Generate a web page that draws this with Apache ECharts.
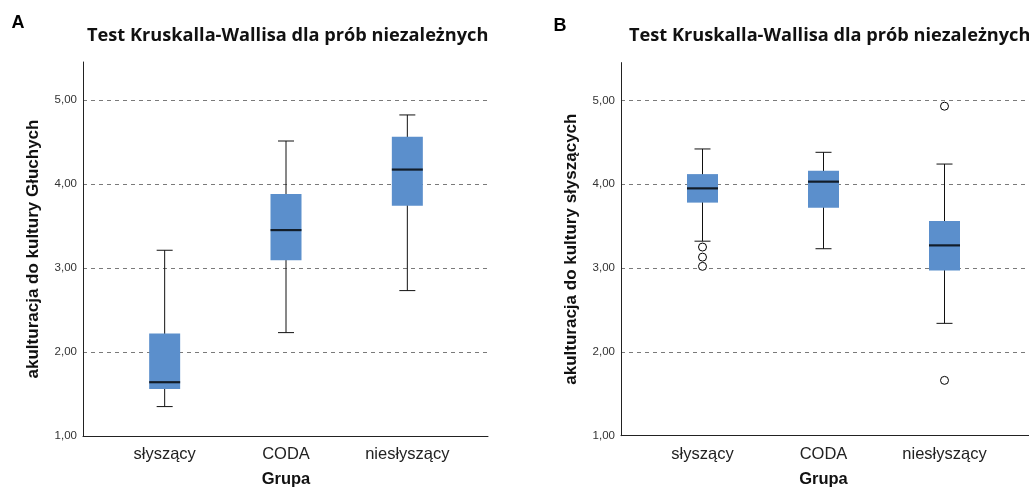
<!DOCTYPE html>
<html>
<head>
<meta charset="utf-8">
<script src="https://cdn.jsdelivr.net/npm/echarts@6/dist/echarts.min.js"></script>
<style>
html,body{margin:0;padding:0;background:#fff;}
#c{width:1029px;height:495px;}
</style>
</head>
<body>
<div id="c"></div>
<script>
// ---- data ----
const categories = ['słyszący', 'CODA', 'niesłyszący'];
const yTickLabels = { 1: '1,00', 2: '2,00', 3: '3,00', 4: '4,00', 5: '5,00' };

// Panel A: akulturacja do kultury Głuchych
const aLow  = [1.35, 2.23, 2.73];
const aQ1   = [1.56, 3.09, 3.74];
const aMed  = [1.64, 3.45, 4.17];
const aQ3   = [2.22, 3.88, 4.56];
const aHigh = [3.21, 4.51, 4.82];
const aOutliers = [];

// Panel B: akulturacja do kultury słyszących
const bLow  = [3.32, 3.23, 2.34];
const bQ1   = [3.78, 3.72, 2.97];
const bMed  = [3.95, 4.03, 3.27];
const bQ3   = [4.12, 4.16, 3.56];
const bHigh = [4.42, 4.38, 4.24];
const bOutliers = [[0, 3.25], [0, 3.13], [0, 3.02], [2, 4.93], [2, 1.66]];

const titleText = 'Test Kruskalla-Wallisa dla prób niezależnych';
const yNameA = 'akulturacja do kultury Głuchych';
const yNameB = 'akulturacja do kultury słyszących';
const xName = 'Grupa';

// ---- styles ----
const BOX = '#5b8fcc';
const AX = '#222';
const yMin = 1, yMax = 5.45;
// whisker layer: its (hidden) box outline is pulled slightly inside the blue box
const INSET = 0.04;

function panel(idx, g0, g1, yName, low, q1, med, q3, high, outliers) {
  const grids = [
    { left: g0.left, top: g0.top, width: g0.width, height: g0.height },
    { left: g1.left, top: g0.top, width: g1.width, height: g0.height }
  ];
  const base = idx * 2;
  const xAxes = [
    { gridIndex: base, type: 'value', min: 0, max: 1,
      axisLine: { show: true, lineStyle: { color: AX, width: 1 } },
      axisTick: { show: false }, axisLabel: { show: false }, splitLine: { show: false } },
    { gridIndex: base + 1, type: 'category', data: categories,
      axisLine: { show: false }, axisTick: { show: false },
      axisLabel: { margin: 10, fontFamily: 'Liberation Sans', fontSize: 16.5, color: '#222' },
      name: xName, nameLocation: 'middle', nameGap: 35,
      nameTextStyle: { fontFamily: 'Liberation Sans', fontSize: 16.5, fontWeight: 'bold', color: '#111' } }
  ];
  const yAxes = [
    { gridIndex: base, type: 'value', min: yMin, max: yMax, interval: 1,
      axisLine: { show: true, lineStyle: { color: AX, width: 1 } },
      axisTick: { show: false },
      axisLabel: { margin: 6, fontFamily: 'Liberation Sans', fontSize: 11.5, color: '#333',
        showMaxLabel: false,
        formatter: v => yTickLabels[v] || '' },
      splitLine: { show: true, showMinLine: false, showMaxLine: false,
        lineStyle: { color: '#7a7a7a', type: [4, 4], width: 1 } },
      name: yName, nameLocation: 'middle', nameGap: 41, nameRotate: 90,
      nameTextStyle: { fontFamily: 'Liberation Sans', fontSize: 17, fontWeight: 'bold', color: '#111' } },
    { gridIndex: base + 1, type: 'value', min: yMin, max: yMax, show: false,
      splitLine: { show: false } }
  ];
  const xi = base + 1, yi = base + 1;
  const series = [
    { type: 'boxplot', xAxisIndex: xi, yAxisIndex: yi, z: 2,
      boxWidth: [16, 16],
      itemStyle: { color: 'transparent', borderColor: '#111', borderWidth: 1 },
      data: categories.map((c, i) => {
        const lo = q1[i] + INSET, hi = q3[i] - INSET;
        const m = Math.min(Math.max(med[i], lo), hi);
        return [low[i], lo, m, hi, high[i]];
      }) },
    { type: 'bar', xAxisIndex: xi, yAxisIndex: yi, stack: 'box' + idx, z: 3,
      barWidth: 31, itemStyle: { color: 'transparent' }, silent: true,
      data: q1 },
    { type: 'bar', xAxisIndex: xi, yAxisIndex: yi, stack: 'box' + idx, z: 3,
      barWidth: 31, itemStyle: { color: BOX },
      data: q3.map((v, i) => +(v - q1[i]).toFixed(4)) },
    { type: 'scatter', xAxisIndex: xi, yAxisIndex: yi, z: 4,
      symbol: 'rect', symbolSize: [31, 2.2], itemStyle: { color: '#000' },
      data: med.map((v, i) => [i, v]) },
    { type: 'scatter', xAxisIndex: xi, yAxisIndex: yi, z: 5,
      symbol: 'circle', symbolSize: 8,
      itemStyle: { color: '#fff', borderColor: '#000', borderWidth: 1, opacity: 1 },
      data: outliers }
  ];
  return { grids, xAxes, yAxes, series };
}

const pA = panel(0,
  { left: 83, top: 62, width: 405, height: 374 },
  { left: 104, width: 364 },
  yNameA, aLow, aQ1, aMed, aQ3, aHigh, aOutliers);
const pB = panel(1,
  { left: 621, top: 62.6, width: 410, height: 373.1 },
  { left: 642, width: 363 },
  yNameB, bLow, bQ1, bMed, bQ3, bHigh, bOutliers);

const chart = echarts.init(document.getElementById('c'), null, { renderer: 'canvas' });
chart.setOption({
  animation: false,
  backgroundColor: '#fff',
  title: [
    { text: 'A', left: 11.5, top: 14, padding: 0, textStyle: { fontFamily: 'Liberation Sans', fontSize: 18, fontWeight: 'bold', color: '#000' } },
    { text: 'B', left: 553.5, top: 17, padding: 0, textStyle: { fontFamily: 'Liberation Sans', fontSize: 18, fontWeight: 'bold', color: '#000' } },
    { text: titleText, left: 87, top: 27, padding: 0, textStyle: { fontFamily: 'Open Sans', fontSize: 18.2, fontWeight: 'bold', color: '#111' } },
    { text: titleText, left: 629, top: 27, padding: 0, textStyle: { fontFamily: 'Open Sans', fontSize: 18.2, fontWeight: 'bold', color: '#111' } }
  ],
  grid: pA.grids.concat(pB.grids),
  xAxis: pA.xAxes.concat(pB.xAxes),
  yAxis: pA.yAxes.concat(pB.yAxes),
  series: pA.series.concat(pB.series)
});
</script>
</body>
</html>
